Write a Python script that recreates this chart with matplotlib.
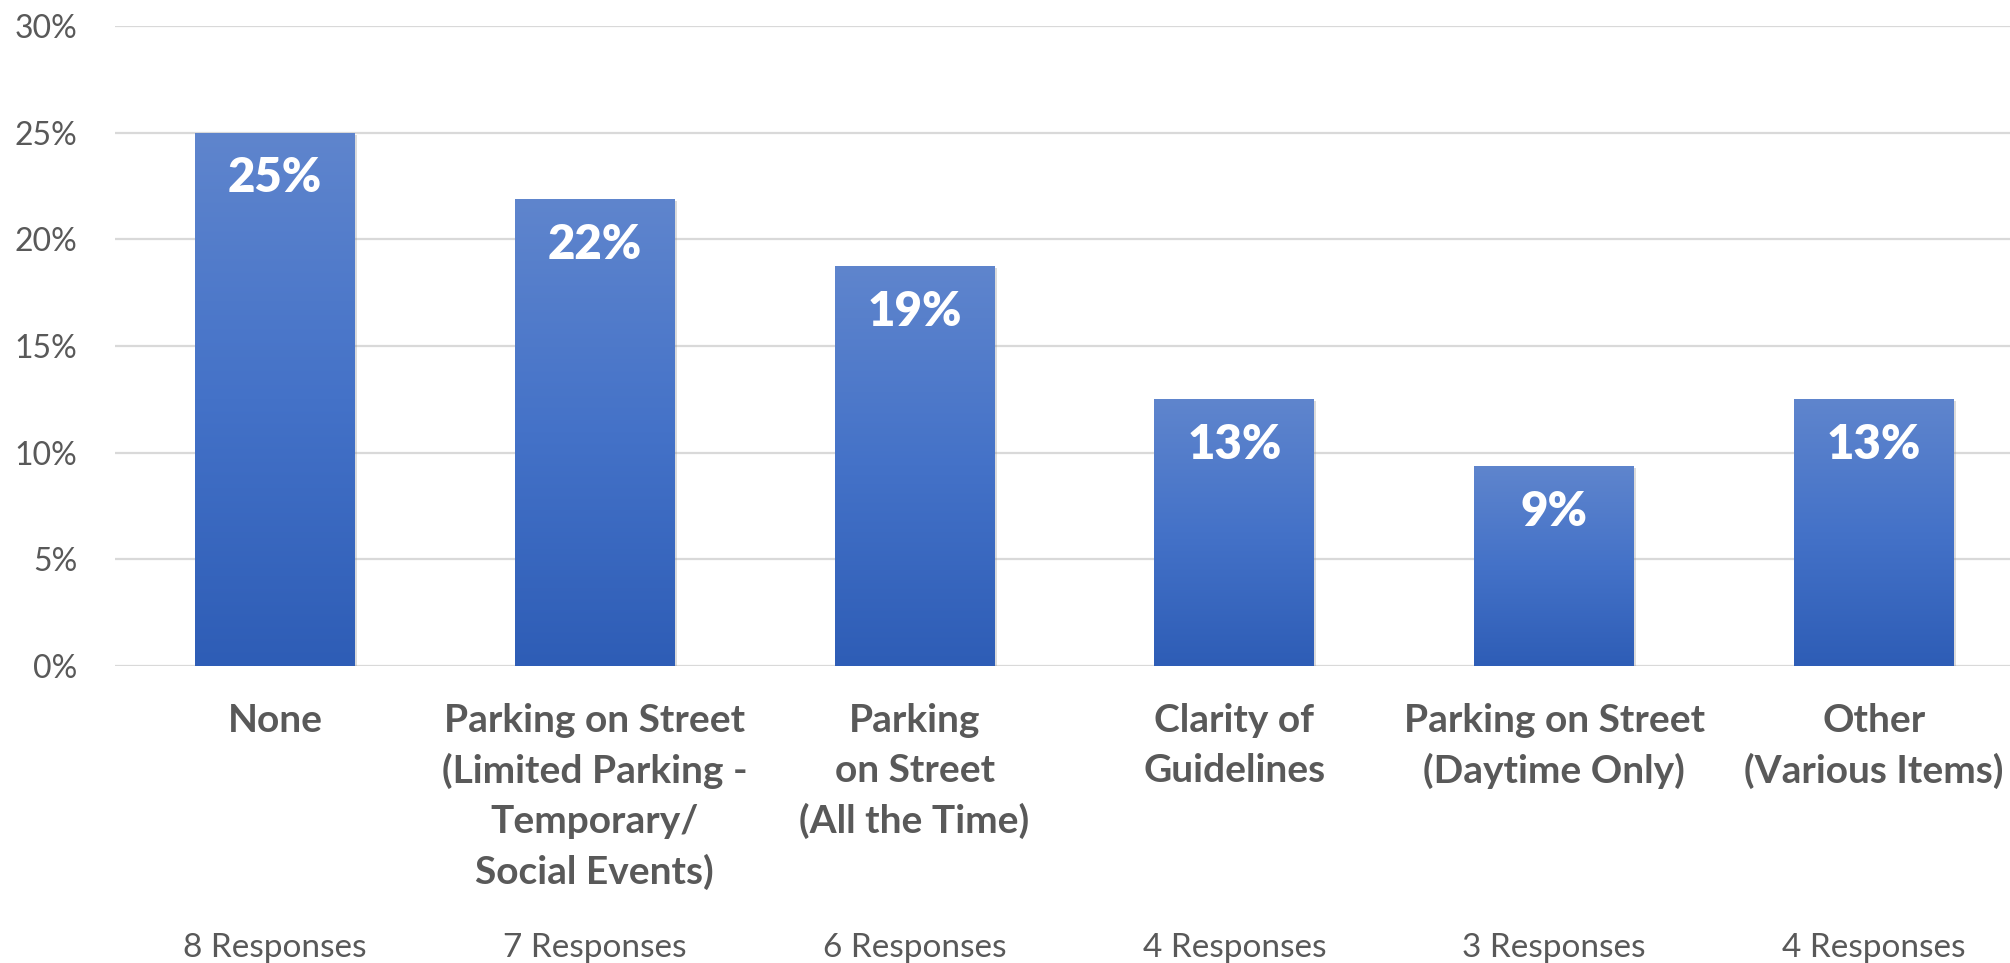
import numpy as np
import matplotlib
matplotlib.use('agg')
import matplotlib.pyplot as plt
import matplotlib.patheffects as pe
from matplotlib.colors import LinearSegmentedColormap
from matplotlib.transforms import blended_transform_factory

# survey results (share of 32 responses)
categories = ['None',
              'Parking on Street\n(Limited Parking -\nTemporary/\nSocial Events)',
              'Parking\non Street\n(All the Time)',
              'Clarity of\nGuidelines',
              'Parking on Street\n(Daytime Only)',
              'Other\n(Various Items)']
percent    = [25.0, 21.875, 18.75, 12.5, 9.375, 12.5]
bar_labels = ['25%', '22%', '19%', '13%', '9%', '13%']
responses  = ['8 Responses', '7 Responses', '6 Responses',
              '4 Responses', '3 Responses', '4 Responses']
yticks     = [0, 5, 10, 15, 20, 25, 30]

txt_col = '#595959'
plt.rcParams['font.family'] = ['Lato', 'DejaVu Sans']

fig = plt.figure(figsize=(20.1, 9.63), dpi=100, facecolor='w')
ax = fig.add_axes([115/2010, 297/963, 1919/2010, 640/963])

x = np.arange(len(categories))
bars = ax.bar(x, percent, width=0.5, color='#4472C4', zorder=2,
              path_effects=[pe.SimplePatchShadow(offset=(1.5, -1.5), shadow_rgbFace='#999999', alpha=0.35),
                            pe.Normal()])

# vertical gradient on each bar
cmap = LinearSegmentedColormap.from_list('g', ['#2E5DB6', '#4472C8', '#5F85CD'])
grad = np.linspace(0, 1, 256).reshape(-1, 1)
for b in bars:
	x0, y0 = b.get_x(), b.get_y()
	im = ax.imshow(grad, cmap=cmap, origin='lower', aspect='auto', zorder=3,
	               extent=[x0, x0 + b.get_width(), y0, y0 + b.get_height()])
	im.set_clip_path(b)

for xi, v, lab in zip(x, percent, bar_labels):
	ax.annotate(lab, (xi, v), xytext=(0, -33), textcoords='offset points',
	            ha='center', va='center', color='w', fontsize=34,
	            fontweight='heavy', zorder=4)

ax.set_xlim(-0.5, len(categories) - 0.5)
ax.set_ylim(0, 30)
ax.set_yticks(yticks)
ax.set_yticklabels([str(t) + '%' for t in yticks])
ax.tick_params(axis='y', length=0, pad=27, labelsize=23, labelcolor=txt_col)
ax.tick_params(axis='x', length=0, labelbottom=False)
ax.grid(axis='y', color='#D9D9D9', linewidth=1.6, zorder=0)
ax.set_axisbelow(True)
for s in ax.spines.values():
	s.set_visible(False)

trans = blended_transform_factory(ax.transData, ax.transAxes)
for xi, cat, r in zip(x, categories, responses):
	ax.text(xi, -0.058, cat, transform=trans, ha='center', va='top',
	        fontsize=28, fontweight='bold', color=txt_col, linespacing=1.5)
	ax.text(xi, -0.44, r, transform=trans, ha='center', va='center',
	        fontsize=24, color=txt_col)

plt.savefig('out.png', dpi=100, facecolor='w')
plt.close('all')
